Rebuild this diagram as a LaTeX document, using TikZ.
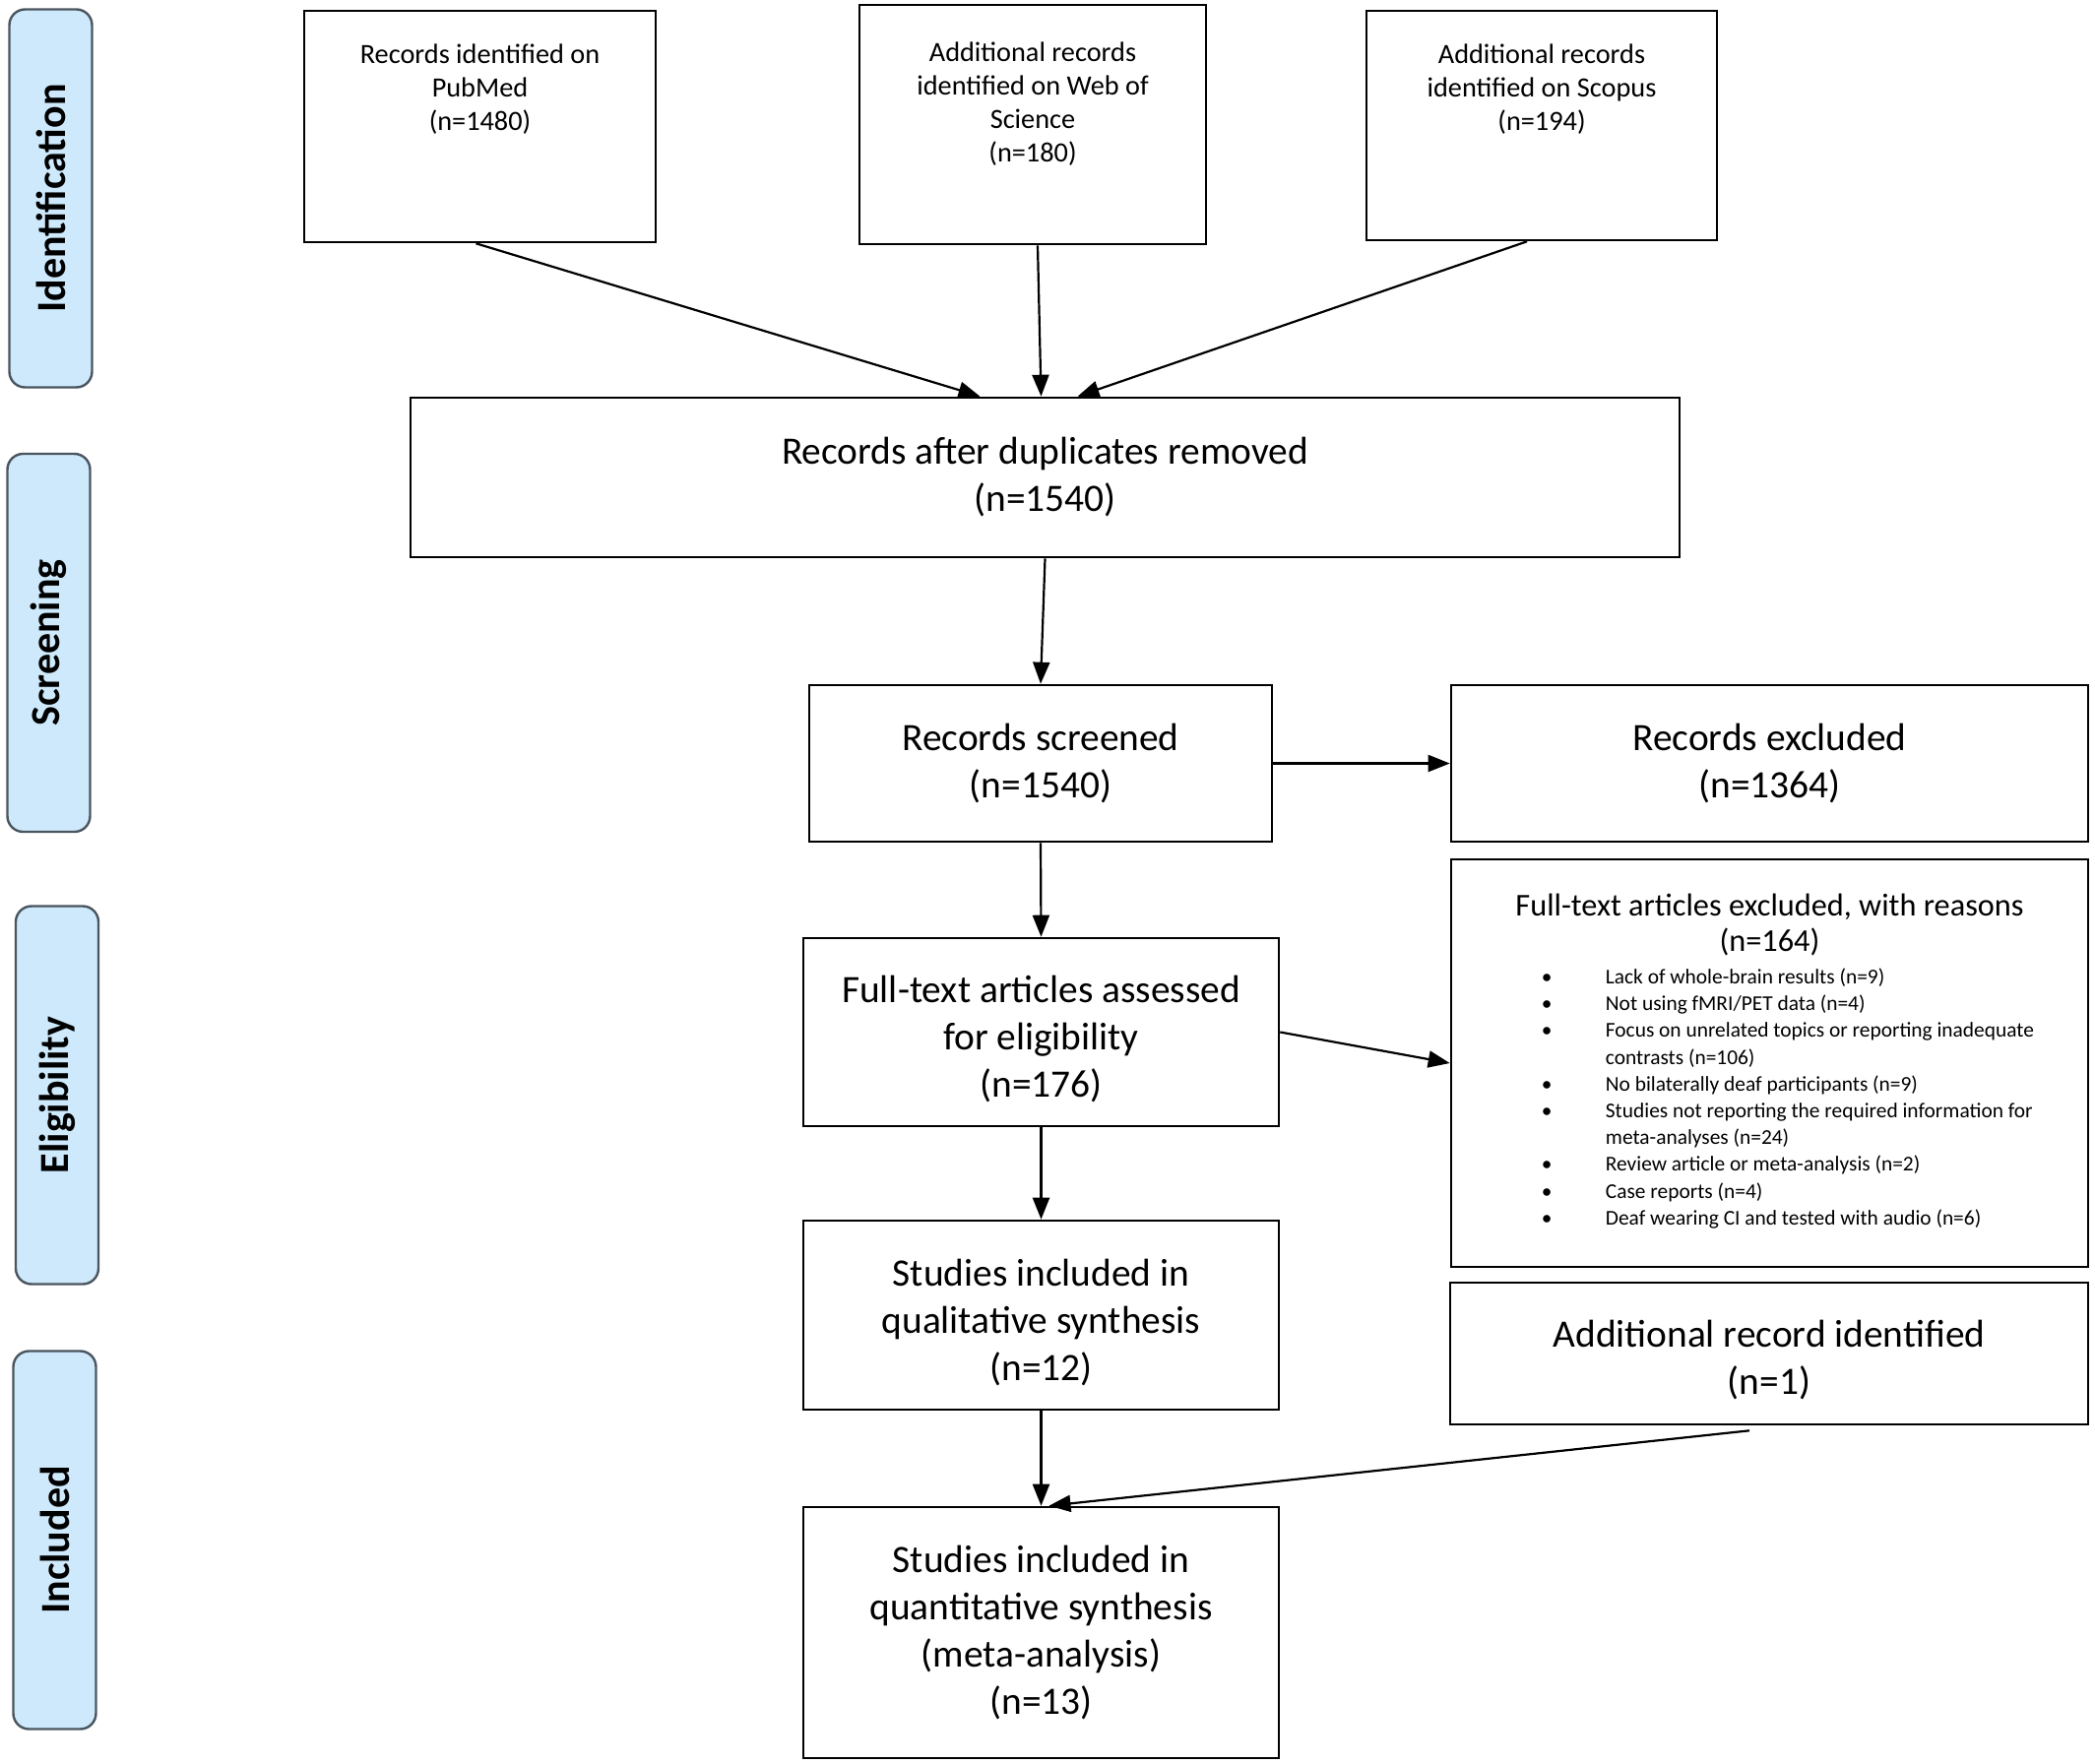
\documentclass[tikz,border=0pt]{standalone}
\usepackage{fontspec}
\setmainfont{Carlito}
\usetikzlibrary{arrows.meta,calc}
\definecolor{sidefill}{RGB}{205,233,251}
\definecolor{sidedraw}{RGB}{75,85,95}
\begin{document}
\begin{tikzpicture}[x=1pt,y=-1pt,
  box/.style={draw=black, line width=2.6pt, rectangle, inner sep=0pt, align=center, font=\fontsize{39.4}{48}\selectfont},
  boxtext/.style={inner sep=0pt, align=center, font=\fontsize{39.4}{48}\selectfont},
  side/.style={draw=sidedraw, fill=sidefill, line width=2.4pt, rounded corners=16pt, rotate=90, minimum width=384pt, minimum height=84pt, inner sep=0pt, font=\bfseries\fontsize{42}{50}\selectfont},
  arr/.style={line width=2.2pt, -{Triangle[length=22pt,width=17pt]}},
  toptext/.style={anchor=north, align=center, inner sep=0pt, font=\fontsize{28.3}{34}\selectfont},
]
\useasboundingbox (0,0) rectangle (2128,1791);

% phase labels
\node[side] (sid) at (51.5,201.5) {Identification};
\node[side] (ssc) at (49.5,653) {Screening};
\node[side] (sel) at (58,1112.5) {Eligibility};
\node[side] (sin) at (55.5,1564.5) {Included};

% identification boxes
\node[box, minimum width=357pt, minimum height=235pt] (pub) at (487.5,128.5) {};
\node[toptext] (pubt) at ($(pub.north)+(0,35)$) {Records identified on\\PubMed\\(n=1480)};
\node[box, minimum width=352pt, minimum height=243pt] (wos) at (1049,126.5) {};
\node[toptext] (wost) at ($(wos.north)+(0,39)$) {Additional records\\identified on Web of\\Science\\(n=180)};
\node[box, minimum width=356pt, minimum height=233pt] (sco) at (1566,127.5) {};
\node[toptext] (scot) at ($(sco.north)+(0,35)$) {Additional records\\identified on Scopus\\(n=194)};

% main flow
\node[box, minimum width=1289pt, minimum height=162pt] (dup) at (1061.5,485) {Records after duplicates removed\\(n=1540)};
\node[box, minimum width=470pt, minimum height=159pt] (scr) at (1057,775.5) {Records screened\\(n=1540)};
\node[box, minimum width=647pt, minimum height=159pt] (exc) at (1797.5,775.5) {Records excluded\\(n=1364)};
\node[box, minimum width=483pt, minimum height=191pt] (fta) at (1057.5,1048.5) {};
\node[boxtext] (ftat) at ($(fta.center)+(0,7)$) {Full-text articles assessed\\for eligibility\\(n=176)};
\node[box, minimum width=647pt, minimum height=414pt] (ftx) at (1797.5,1080) {};
\node[toptext, font=\fontsize{32.3}{36}\selectfont] (ftxt) at ($(ftx.north)+(0,36)$) {Full-text articles excluded, with reasons\\(n=164)};
\node[anchor=north west, align=left, inner sep=0pt, font=\fontsize{21.4}{27.2}\selectfont] (ftxl) at ($(ftx.north west)+(93,112)$) {%
\makebox[65pt][l]{\textbullet}Lack of whole-brain results (n=9)\\
\makebox[65pt][l]{\textbullet}Not using fMRI/PET data (n=4)\\
\makebox[65pt][l]{\textbullet}Focus on unrelated topics or reporting inadequate\\
\hspace*{65pt}contrasts (n=106)\\
\makebox[65pt][l]{\textbullet}No bilaterally deaf participants (n=9)\\
\makebox[65pt][l]{\textbullet}Studies not reporting the required information for\\
\hspace*{65pt}meta-analyses (n=24)\\
\makebox[65pt][l]{\textbullet}Review article or meta-analysis (n=2)\\
\makebox[65pt][l]{\textbullet}Case reports (n=4)\\
\makebox[65pt][l]{\textbullet}Deaf wearing CI and tested with audio (n=6)};
\node[box, minimum width=483pt, minimum height=192pt] (qual) at (1057.5,1336) {};
\node[boxtext] (qualt) at ($(qual.center)+(0,8)$) {Studies included in\\qualitative synthesis\\(n=12)};
\node[box, minimum width=648pt, minimum height=144pt] (add) at (1797,1375) {};
\node[boxtext] (addt) at ($(add.center)+(0,7)$) {Additional record identified\\(n=1)};
\node[box, minimum width=483pt, minimum height=255pt] (quant) at (1057.5,1658.5) {Studies included in\\quantitative synthesis\\(meta-analysis)\\(n=13)};

% connectors
\draw[arr] ([xshift=-4pt]pub.south) -- ([xshift=-66pt]dup.north);
\draw[arr] ([xshift=5pt]wos.south) -- ([xshift=-4pt]dup.north);
\draw[arr] ([xshift=-15pt]sco.south) -- ([xshift=33pt]dup.north);
\draw[arr] (dup.south) -- (scr.north);
\draw[arr] (scr.east) -- (exc.west);
\draw[arr] (scr.south) -- (fta.north);
\draw[arr] (fta.east) -- (ftx.west);
\draw[arr] (fta.south) -- (qual.north);
\draw[arr] (qual.south) -- (quant.north);
\draw[arr] ([xshift=-20pt,yshift=-5pt]add.south) -- ([xshift=8pt]quant.north);
\end{tikzpicture}
\end{document}
